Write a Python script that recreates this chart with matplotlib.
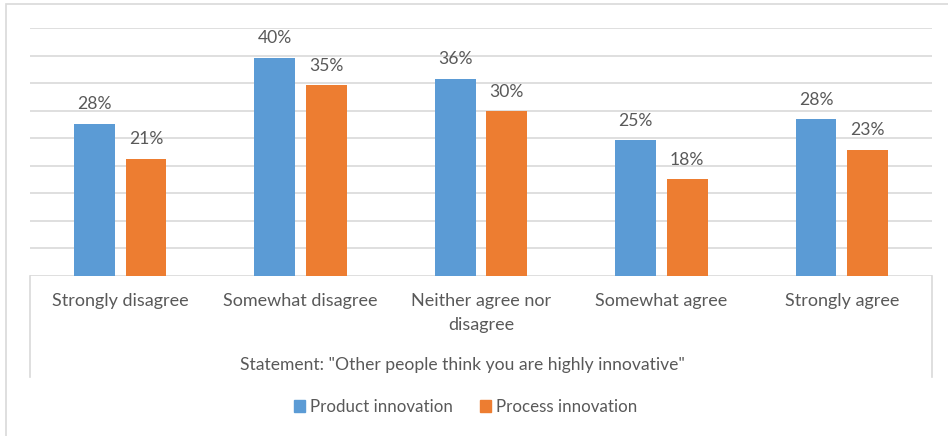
import matplotlib
matplotlib.use("Agg")
import matplotlib.pyplot as plt
from matplotlib.patches import Rectangle, Patch
from matplotlib.lines import Line2D
import numpy as np

# -------------------------------
# Donnees
# -------------------------------
categories = ["Strongly disagree", "Somewhat disagree", "Neither agree nor\ndisagree",
              "Somewhat agree", "Strongly agree"]
product_innovation = [27.6, 39.6, 35.8, 24.6, 28.4]
process_innovation = [21.3, 34.6, 29.9, 17.6, 22.9]
series_names = ["Product innovation", "Process innovation"]
axis_title = 'Statement: "Other people think you are highly innovative"'

BLUE = "#5B9BD5"
ORANGE = "#ED7D31"
GRID = "#D9D9D9"
TEXT = "#595959"

plt.rcParams["font.family"] = ["Lato", "DejaVu Sans"]

W, H = 948, 436
fig = plt.figure(figsize=(W / 100, H / 100), dpi=100)

# zone de trace (en pixels)
left, right, top, base = 30, 932, 28, 276
ax = fig.add_axes([left / W, 1 - base / H, (right - left) / W, (base - top) / H])

x = np.arange(len(categories))
bw = 0.227
off = 0.143
b1 = ax.bar(x - off, product_innovation, bw, color=BLUE, zorder=3)
b2 = ax.bar(x + off, process_innovation, bw, color=ORANGE, zorder=3)

for bars, vals in ((b1, product_innovation), (b2, process_innovation)):
    for b, v in zip(bars, vals):
        ax.annotate(f"{v:.0f}%", (b.get_x() + b.get_width() / 2, v),
                    xytext=(0, 14), textcoords="offset points",
                    ha="center", va="center", fontsize=12.6, color=TEXT)

ax.set_xlim(-0.5, len(categories) - 0.5)
ax.set_ylim(0, 45)
ax.set_yticks(np.arange(0, 46, 5))
ax.yaxis.grid(True, color=GRID, linewidth=1.2, zorder=0)
ax.tick_params(left=False, labelleft=False, bottom=False, labelbottom=False)
for s in ax.spines.values():
    s.set_visible(False)

# etiquettes de categories
for i, c in enumerate(categories):
    fig.text((left + (i + 0.5) * (right - left) / 5) / W, 1 - 293 / H, c,
             ha="center", va="top", fontsize=13, color=TEXT, linespacing=1.65)

# lignes de l'axe multi-niveaux
bottom_line = 377
for xp in (left, right):
    fig.add_artist(Line2D([xp / W, xp / W], [1 - base / H, 1 - bottom_line / H],
                          color=GRID, linewidth=1.2))

fig.text(462 / W, 1 - 365 / H, axis_title, ha="center", va="center",
         fontsize=12.6, color=TEXT)

# legende
handles = [Patch(color=BLUE), Patch(color=ORANGE)]
fig.legend(handles, series_names, loc="center", bbox_to_anchor=(466 / W, 1 - 407 / H),
           ncol=2, frameon=False, fontsize=12.2, labelcolor=TEXT,
           handlelength=0.65, handleheight=0.65, handletextpad=0.3, columnspacing=1.6)

# cadre du graphique
fig.add_artist(Rectangle((6 / W, -0.1), 1.1, 1 - 4 / H + 0.1, transform=fig.transFigure,
                         fill=False, edgecolor=GRID, linewidth=1.2))

fig.savefig("out.png", dpi=100)
